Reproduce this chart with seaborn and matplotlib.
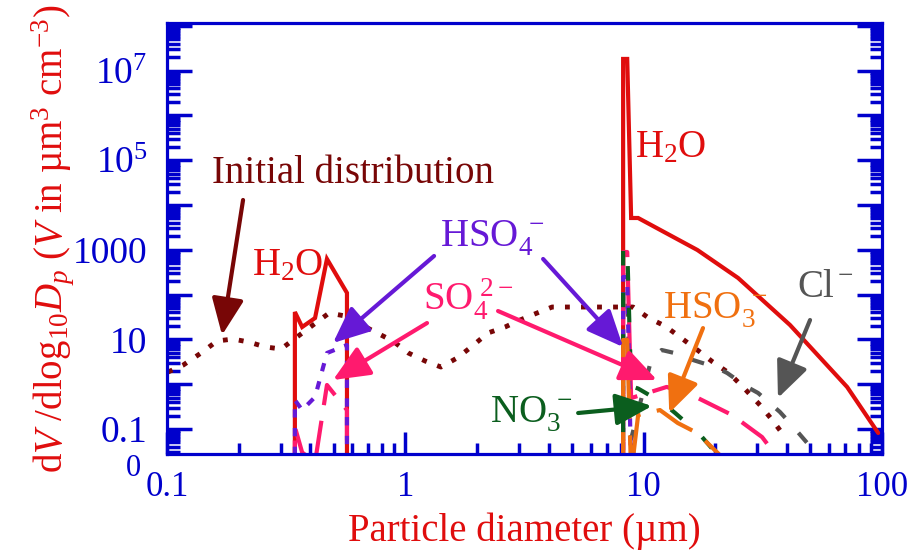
import matplotlib
matplotlib.use("Agg")
import matplotlib.pyplot as plt
from matplotlib.ticker import FixedLocator, FixedFormatter, NullFormatter
import seaborn as sns

# ---------------- data ----------------
init_d = [0.101, 0.117, 0.139, 0.162, 0.189, 0.221, 0.258, 0.301, 0.351, 0.410, 0.479, 0.559,
          0.646, 0.761, 0.887, 1.03, 1.21, 1.41, 1.65, 1.91, 2.22, 2.62, 3.03, 3.57, 4.13,
          9.03, 10.5, 12.3, 14.2, 16.8, 19.5, 22.8, 26.6, 30.8, 34.9, 39.2]
init_v = [1.87, 2.68, 4.97, 9.2, 10.2, 8.7, 6.8, 6.1, 11.3, 21, 38.8, 33.3,
          22, 13.9, 9.2, 4.97, 3.3, 2.42, 3.85, 7.1, 13.9, 18.9, 27.1, 38.8, 52.8,
          52.8, 30, 19.9, 11.3, 5.8, 3.13, 1.78, 0.78, 0.34, 0.151, 0.066]

h2o_d = [0.344, 0.344, 0.369, 0.418, 0.469, 0.569, 0.569, 8.2, 8.2, 8.53, 8.86, 9.48,
         16.8, 24.9, 41.1, 71.4, 96.4]
h2o_v = [0.01, 40.9, 18.9, 30, 624, 109, 0.01, 0.01, 1.82e7, 1.82e7, 5130, 5130,
         991, 235, 21, 0.866, 0.0815]

hso4_d = [0.344, 0.344, 0.369, 0.418, 0.469, 0.569, 0.569, 8.2, 8.2, 8.53, 8.86]
hso4_v = [0.01, 0.444, 0.265, 0.518, 4.97, 7.5, 0.01, 0.01, 247, 247, 0.01]

so4_d = [0.344, 0.344, 0.369, 0.418, 0.469, 0.569, 0.569, 8.2, 8.2, 8.53, 8.86, 12.5,
         16.9, 23.5, 31.4, 41.1]
so4_v = [0.01, 0.111, 0.03, 0.018, 0.96, 0.265, 0.01, 0.01, 893, 893, 0.49, 0.87,
         0.49, 0.205, 0.066, 0.01]

no3_d = [8.2, 8.2, 8.53, 8.86, 9.48, 12.05, 13.55, 17.3, 20.0]
no3_v = [0.01, 1156, 1156, 0.9, 0.8, 0.38, 0.228, 0.073, 0.03]

hso3_d = [8.2, 8.2, 8.53, 8.86, 9.48, 11.7, 13.9, 16.8, 18.5, 22.0]
hso3_v = [0.01, 9.7, 9.7, 0.01, 0.205, 0.265, 0.136, 0.081, 0.049, 0.02]

cl_d = [8.2, 8.2, 8.53, 8.86, 10.8, 11.9, 14.6, 16.1, 19.95, 22.4, 27.2, 30.2, 37.3,
        41.1, 48.5, 55.0]
cl_v = [0.01, 114, 114, 0.06, 3.85, 5.8, 4.49, 3.47, 2.42, 1.78, 0.866, 0.637, 0.24,
        0.136, 0.049, 0.02]

x_ticks = [0.1, 1, 10, 100]
x_ticklabels = ["0.1", "1", "10", "100"]
y_label_vals = [0.1, 10, 1000, 1e5, 1e7]
y_label_txt = ["0.1", "10", "1000", r"$10^5$", r"$10^7$"]

# ---------------- style ----------------
sns.set_theme(style="white")
plt.rcParams["font.family"] = ["Liberation Serif", "DejaVu Serif"]
plt.rcParams["mathtext.fontset"] = "custom"
plt.rcParams["mathtext.rm"] = "Liberation Serif"
plt.rcParams["mathtext.it"] = "Liberation Serif:italic"
plt.rcParams["mathtext.bf"] = "Liberation Serif:bold"

BLUE = "#0000cc"
RED = "#e00d0d"
DARKRED = "#780606"
PURPLE = "#6619d6"
PINK = "#ff1a6e"
ORANGE = "#f07010"
GRAY = "#555555"
GREEN = "#0b5e1e"

fig = plt.figure(figsize=(9.14, 5.51), dpi=100)
ax = fig.add_axes([167 / 914, 1 - 454 / 551, 715 / 914, 431 / 551])
ax.set_xscale("log")
ax.set_yscale("log")
ax.set_xlim(0.1, 100)
ax.set_ylim(0.02767, 1.155e8)

common = dict(ax=ax, sort=False, estimator=None, legend=False)
sns.lineplot(x=init_d, y=init_v, color=DARKRED, lw=3.5, ls=(0, (1, 2.3)), **common)
sns.lineplot(x=h2o_d, y=h2o_v, color=RED, lw=3.0, solid_joinstyle="miter", **common)
sns.lineplot(x=cl_d, y=cl_v, color=GRAY, lw=3.0, ls=(0, (3.1, 4.8)), **common)
sns.lineplot(x=so4_d, y=so4_v, color=PINK, lw=3.0, ls=(0, (8, 3.8)), **common)
sns.lineplot(x=hso4_d, y=hso4_v, color=PURPLE, lw=3.0, ls=(0, (2, 2.5)), **common)
sns.lineplot(x=no3_d, y=no3_v, color=GREEN, lw=3.0, ls=(0, (3.5, 6.5)), **common)
sns.lineplot(x=hso3_d, y=hso3_v, color=ORANGE, lw=3.0, ls=(0, (10, 4)), **common)

# ---------------- axes decoration ----------------
for s in ax.spines.values():
    s.set_color(BLUE)
    s.set_linewidth(2.3)
    s.set_visible(True)

ax.xaxis.set_major_locator(FixedLocator(x_ticks))
ax.xaxis.set_major_formatter(FixedFormatter(x_ticklabels))
ax.xaxis.set_minor_locator(FixedLocator([m * 10 ** k for k in range(-1, 2) for m in range(2, 10)]))
ax.xaxis.set_minor_formatter(NullFormatter())

y_major = [10.0 ** k for k in range(-1, 9)]
ax.yaxis.set_major_locator(FixedLocator(y_major))
lab = []
for v in y_major:
    lab.append(y_label_txt[y_label_vals.index(v)] if v in y_label_vals else "")
ax.yaxis.set_major_formatter(FixedFormatter(lab))
ax.yaxis.set_minor_locator(FixedLocator([m * 10 ** k for k in range(-2, 9) for m in range(2, 10)]))
ax.yaxis.set_minor_formatter(NullFormatter())

ax.tick_params(axis="y", which="major", direction="in", length=18, width=2.5, color=BLUE,
               left=True, right=True, labelcolor=BLUE, labelsize=27, pad=14)
ax.tick_params(axis="y", which="minor", direction="in", length=9, width=2.5, color=BLUE,
               left=True, right=True)
ax.tick_params(axis="x", which="major", direction="in", length=16, width=2.5, color=BLUE,
               bottom=True, top=False, labelcolor=BLUE, labelsize=25, pad=12)
ax.tick_params(axis="x", which="minor", direction="in", length=8, width=2.5, color=BLUE,
               bottom=True, top=False)

ax.set_xlabel("Particle diameter (µm)", color=RED, fontsize=28, labelpad=6)
ax.set_ylabel(r"d$V$ /dlog$_{10}$$D_p$ ($V$ in µm$^3$ cm$^{-3}$)", color=RED,
              fontsize=28, va="baseline")
ax.yaxis.set_label_coords(-0.147, 0.5)

fig.text(133 / 914, 1 - 468 / 551, "0", color=BLUE, fontsize=22, ha="center", va="center")

# ---------------- annotations ----------------
def arrow(tail, tip, c):
    ax.annotate("", xy=tip, xytext=tail, xycoords="data", textcoords="data",
                arrowprops=dict(arrowstyle="-|>,head_length=0.8,head_width=0.35",
                                lw=3, color=c, shrinkA=0, shrinkB=0, mutation_scale=28))

fs = 28
ax.text(0.1545, 30970, "Initial distribution", color=DARKRED, fontsize=fs, ha="left", va="baseline")
arrow((0.2085, 12940), (0.1702, 12.5), DARKRED)

ax.text(0.2276, 273.8, r"H$_2$O", color=RED, fontsize=fs, ha="left", va="baseline")
ax.text(9.2, 117900, r"H$_2$O", color=RED, fontsize=fs, ha="left", va="baseline")

ax.text(1.398, 1155, r"HSO$_4^{\ -}$", color=PURPLE, fontsize=fs, ha="left", va="baseline")
arrow((3.785, 624), (8.2, 6.76), PURPLE)
arrow((1.32, 728), (0.497, 8.31), PURPLE)

ax.text(1.187, 45.3, r"SO$_4^{\ 2-}$", color=PINK, fontsize=fs, ha="left", va="baseline")
arrow((1.233, 23.2), (0.497, 1.24), PINK)
arrow((2.449, 43), (11.38, 1.24), PINK)

ax.text(12.05, 30, r"HSO$_3^{\ -}$", color=ORANGE, fontsize=fs, ha="left", va="baseline")
arrow((17.74, 17.9), (12.8, 0.2275), ORANGE)

ax.text(44.05, 88.3, r"Cl$^-$", color=GRAY, fontsize=fs, ha="left", va="baseline")
arrow((49.9, 27.1), (36.6, 0.492), GRAY)

ax.text(2.268, 0.143, r"NO$_3^{\ -}$", color=GREEN, fontsize=fs, ha="left", va="baseline")
arrow((5.31, 0.2275), (10.84, 0.326), GREEN)

fig.savefig("out.png", dpi=100)
